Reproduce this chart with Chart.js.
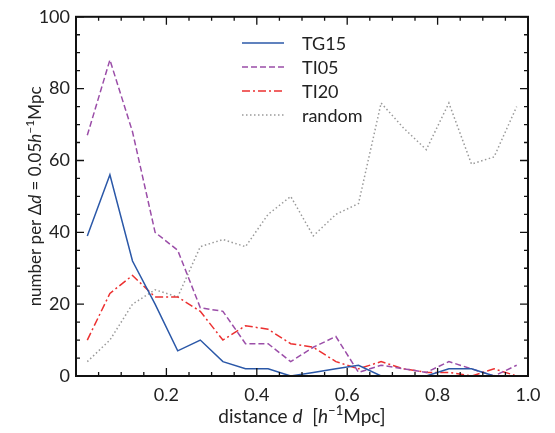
<!DOCTYPE html>
<html><head><meta charset="utf-8">
<script src="https://cdn.jsdelivr.net/npm/chart.js@4.4.0/dist/chart.umd.min.js"></script>
<style>html,body{margin:0;padding:0;background:#fff}#wrap{width:555px;height:433px}</style>
</head><body><div id="wrap"><canvas id="c" width="555" height="433"></canvas></div>
<script>
const distances = [0.025,0.075,0.125,0.175,0.225,0.275,0.325,0.375,0.425,0.475,0.525,0.575,0.625,0.675,0.725,0.775,0.825,0.875,0.925,0.975];
const TG15   = [39,56,32,20,7,10,4,2,2,0,1,2,3,0,0,0,2,2,0,0];
const TI05   = [67,88,68,40,35,19,18,9,9,4,8,11,1,3,2,1,4,2,0,3];
const TI20   = [10,23,28,22,22,18,10,14,13,9,8,4,2,4,2,1,1,0,2,0];
const random = [4,10,20,24,22,36,38,36,45,50,39,45,48,76,69,63,76,59,61,75];
const xTickLabels = [0.2,0.4,0.6,0.8,1.0];
const yTickLabels = [0,20,40,60,80,100];

const FONT = 'Lato, "DejaVu Sans", sans-serif';
const toPts = arr => arr.map((v,i)=>({x:distances[i], y:v}));

const seriesDefs = [
  {label:'TG15', data:TG15, color:'#2b58a8', dash:[]},
  {label:'TI05', data:TI05, color:'#9b4ea8', dash:[6,3]},
  {label:'TI20', data:TI20, color:'#ec3030', dash:[8,3,2,3]},
  {label:'random', data:random, color:'#9a9a9a', dash:[1.5,2.5]}
];

function drawRich(ctx, segs, x, y, size, align){
  const fontFor = s => s==='i' ? `italic ${size}px ${FONT}` : s==='s' ? `${Math.round(size*0.7)}px ${FONT}` : `${size}px ${FONT}`;
  let total = 0;
  segs.forEach(([t,s])=>{ctx.font=fontFor(s); total+=ctx.measureText(t).width;});
  let cx = align==='center' ? x - total/2 : x;
  ctx.textBaseline='alphabetic'; ctx.textAlign='left';
  segs.forEach(([t,s])=>{
    ctx.font=fontFor(s);
    ctx.fillText(t, cx, s==='s' ? y - size*0.4 : y);
    cx += ctx.measureText(t).width;
  });
}

const framePlugin = {
  id:'frame',
  afterDraw(chart){
    const ctx = chart.ctx, a = chart.chartArea;
    const xs = chart.scales.x, ys = chart.scales.y;
    ctx.save();
    ctx.strokeStyle='#111'; ctx.lineWidth=1.3;
    xs.ticks.forEach(t=>{
      const v=t.value, px=xs.getPixelForValue(v);
      const major = Math.abs(v*5 - Math.round(v*5))<1e-6;
      const L = major?8:4;
      ctx.beginPath(); ctx.moveTo(px,a.bottom); ctx.lineTo(px,a.bottom-L);
      ctx.moveTo(px,a.top); ctx.lineTo(px,a.top+L); ctx.stroke();
    });
    ys.ticks.forEach(t=>{
      const v=t.value, py=ys.getPixelForValue(v);
      const major = Math.abs(v%20)<1e-6;
      const L = major?8:4;
      ctx.beginPath(); ctx.moveTo(a.left,py); ctx.lineTo(a.left+L,py);
      ctx.moveTo(a.right,py); ctx.lineTo(a.right-L,py); ctx.stroke();
    });
    ctx.lineWidth=2;
    ctx.strokeRect(a.left,a.top,a.right-a.left,a.bottom-a.top);
    // legend
    const lx0=242, lx1=284, tx=302, rows=[43,67,91,115];
    chart.data.datasets.forEach((ds,i)=>{
      ctx.strokeStyle=ds.borderColor; ctx.lineWidth=ds.borderWidth; ctx.setLineDash(ds.borderDash||[]);
      ctx.beginPath(); ctx.moveTo(lx0,rows[i]); ctx.lineTo(lx1,rows[i]); ctx.stroke();
      ctx.setLineDash([]);
      ctx.fillStyle='#222'; ctx.font=`18px ${FONT}`; ctx.textBaseline='middle'; ctx.textAlign='left';
      ctx.fillText(ds.label, tx, rows[i]+1);
    });
    // axis titles
    ctx.fillStyle='#222';
    drawRich(ctx, [['distance ','n'],['d','i'],['  [','n'],['h','i'],['\u22121','s'],['Mpc]','n']], (a.left+a.right)/2, 423, 19, 'center');
    ctx.save();
    ctx.translate(41,(a.top+a.bottom)/2); ctx.rotate(-Math.PI/2);
    drawRich(ctx, [['number per \u0394','n'],['d','i'],[' = 0.05','n'],['h','i'],['\u22121','s'],['Mpc','n']], 0, 0, 17, 'center');
    ctx.restore();
    ctx.restore();
  }
};

new Chart(document.getElementById('c'), {
  type:'line',
  data:{datasets: seriesDefs.map(s=>({
    label:s.label, data:toPts(s.data), borderColor:s.color, backgroundColor:s.color,
    borderWidth:1.5, borderDash:s.dash, pointRadius:0, tension:0, fill:false
  }))},
  options:{
    responsive:false, animation:false, devicePixelRatio:1,
    layout:{padding:{left:0,right:27,top:14,bottom:0}},
    plugins:{legend:{display:false}, tooltip:{enabled:false}},
    scales:{
      x:{type:'linear', min:0, max:1,
        grid:{display:false, drawTicks:false}, border:{display:false},
        afterFit(s){s.height=57;},
        ticks:{stepSize:0.05, autoSkip:false, maxRotation:0, padding:8, color:'#222', font:{family:FONT,size:18},
          callback(v){const r=Math.round(v*100)/100; return xTickLabels.some(t=>Math.abs(t-r)<1e-6) ? r.toFixed(1) : '';}}
      },
      y:{type:'linear', min:0, max:100,
        grid:{display:false, drawTicks:false}, border:{display:false},
        afterFit(s){s.width=76;},
        ticks:{stepSize:5, autoSkip:false, padding:6, color:'#222', font:{family:FONT,size:18},
          callback(v){return yTickLabels.includes(v) ? String(v) : '';}}
      }
    }
  },
  plugins:[framePlugin]
});
</script></body></html>
